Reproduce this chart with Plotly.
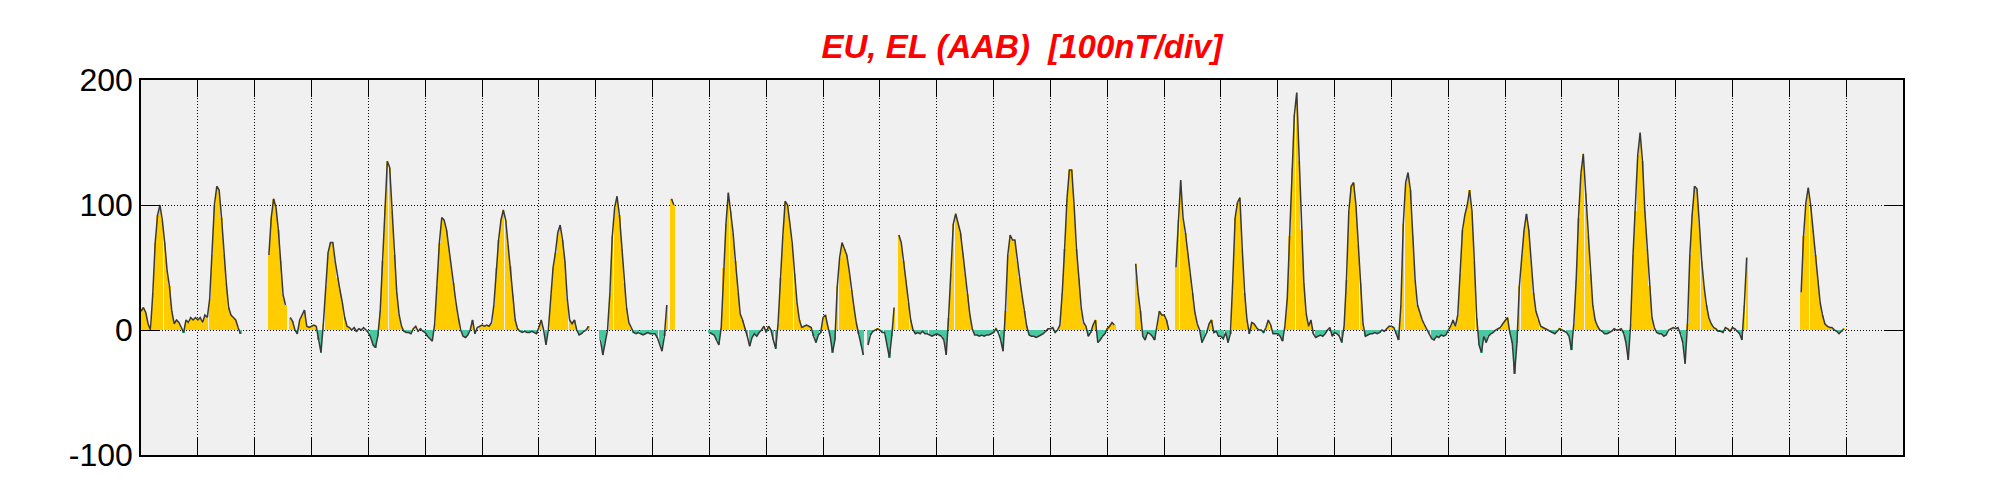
import plotly.graph_objects as go

N = None
# Hourly EU (positive) / EL (negative) values in nT, one list per day (UT hours 0..23)
d00 = [15, 18, 14, 5, 0, 30, 70, 92, 100, 88, 70, 48, 35, 15, 5, 8, 6, 2, -2, 8, 6, 10, 8, 10]
d01 = [8, 10, 6, 12, 10, 25, 60, 100, 115, 112, 90, 60, 38, 18, 12, 10, 8, 2, -3, N, N, N, N, N]
d02 = [N, N, N, N, N, N, 60, 90, 105, 98, 80, 55, 28, 20, N, 10, 7, 0, -3, 8, 12, 16, 3, 2]
d03 = [3, 4, 3, -8, -18, 5, 35, 62, 70, 70, 55, 42, 32, 22, 10, 3, 2, 0, 2, -1, 1, 0, 2, 0]
d04 = [-2, -6, -12, -14, -5, 15, 55, 100, 135, 130, 95, 60, 30, 12, 3, -1, -2, -2, -3, 1, 3, -1, 1, -1]
d05 = [-2, -5, -7, -9, 5, 35, 70, 90, 88, 80, 65, 52, 38, 22, 10, 0, -5, -6, -4, 0, 8, -3, 2, 3]
d06 = [4, 3, 4, 3, 6, 20, 50, 72, 88, 96, 88, 68, 51, 28, 8, 1, -1, -2, -1, -2, -2, -1, -2, -3]
d07 = [2, 8, 0, -12, 0, 28, 50, 62, 78, 84, 72, 55, 25, 8, 5, 8, 0, -4, -3, -1, 0, 3, N, N]
d08 = [N, N, -8, -20, -10, 0, 30, 75, 98, 107, 92, 65, 38, 18, 6, 2, -2, -3, -2, -3, -4, -3, -2, -3]
d09 = [-3, -3, -6, -12, -17, -5, 20, N, 105, 100, N, N, N, N, N, N, N, N, N, N, N, N, N, N]
d10 = [-2, -3, -4, -8, -12, 2, 50, 85, 110, 95, 78, 55, 30, 13, 8, 2, -5, -13, -6, -3, -5, -2, 0, 3]
d11 = [-2, 3, 0, -8, -15, 5, 42, 75, 103, 100, 85, 69, 45, 22, 8, 2, 3, 4, 3, 2, -5, -10, -4, -2]
d12 = [10, 12, 3, -5, -18, -8, 35, 58, 70, 65, 60, 48, 32, 19, 6, -3, -12, -20, N, -12, -4, -1, 0, 1]
d13 = [0, -2, -2, -12, -22, -5, 18, N, 76, 70, 55, 40, 22, 8, 0, -3, -2, -3, -1, -3, -3, -4, -5, -4]
d14 = [-3, -4, -5, -8, -20, 10, 45, 85, 93, 86, 78, 62, 45, 29, 12, 1, -4, -4, -5, -4, -5, -4, -4, -3]
d15 = [-2, 1, -2, -8, -17, 15, 60, 76, 72, 72, 55, 42, 28, 15, 3, -4, -5, -5, -6, -5, -4, -3, -1, 1]
d16 = [1, 2, -2, 0, 4, 30, 65, 105, 128, 128, 100, 65, 42, 18, 6, 3, -5, -2, 4, 8, -10, -8, -5, -3]
d17 = [1, 3, 6, 4, N, N, N, N, N, N, N, N, 53, 30, 15, -5, -8, -2, -3, -5, -8, 2, 15, 12]
d18 = [12, 8, 0, N, N, 50, 88, 120, 90, 78, 62, 45, 30, 14, 5, 0, -10, -6, -2, 5, 8, -2, -1, -5]
d19 = [-5, -7, -2, -10, -3, 40, 90, 102, 106, 65, 30, 8, -3, 6, 5, 2, 0, 0, -2, 2, 8, 4, -3, -3]
d20 = [-3, -5, -9, 3, 25, 75, 130, 172, 190, 135, 80, 38, 13, 3, 8, -3, -6, -5, -4, -5, -3, 0, 2, -5]
d21 = [-2, -3, -5, -10, 3, 40, 95, 115, 118, 100, 68, 38, 5, -5, -4, -3, -3, -2, -3, -2, 0, -1, 1, 3]
d22 = [3, 2, -3, -8, 20, 85, 118, 126, 112, 75, 40, 20, 13, 8, 4, 0, -3, -7, -8, -5, -6, -4, -5, -4]
d23 = [0, 3, 8, 3, 12, 45, 80, 92, 100, 112, 95, 55, 10, -12, -18, -5, -10, -5, -3, -2, 0, 1, 2, 5]
d24 = [8, 10, -2, -10, -35, -10, 35, 60, 80, 93, 80, 55, 30, 15, 8, 3, 2, 1, 0, -1, -2, -3, -1, 1]
d25 = [0, -1, -2, -5, -16, 5, 40, 90, 125, 141, 110, 75, 45, 20, 8, 3, 0, -1, -3, -3, -2, -1, 1, 0]
d26 = [0, 1, -2, -10, -24, 5, 60, 95, 140, 158, 135, 95, 65, 35, 10, 2, -2, -3, -3, -5, -4, 0, 1, 2]
d27 = [1, 2, -3, -10, -27, 5, 60, 93, 115, 113, 85, 55, 35, 20, 10, 5, 2, 1, -1, -1, -2, 2, 1, -1]
d28 = [2, 1, -1, -3, -8, 20, 58, N, N, N, N, N, N, N, N, N, N, N, N, N, N, N, N, N]
d29 = [N, N, N, N, N, 30, 75, 102, 114, 100, 80, 60, 40, 22, 12, 5, 3, 2, 2, 0, -1, -3, -1, 1]
d30 = [N] * 24

days = [d00, d01, d02, d03, d04, d05, d06, d07, d08, d09, d10, d11, d12, d13, d14, d15,
        d16, d17, d18, d19, d20, d21, d22, d23, d24, d25, d26, d27, d28, d29, d30]

y_ticks = [-100, 0, 100, 200]
title_text = "EU, EL (AAB)\u00a0 [100nT/div]"

t, v = [], []
for di, dl in enumerate(days):
    for h, val in enumerate(dl):
        t.append(di + h / 24.0)
        v.append(val)

pos = [max(x, 0) if x is not None else None for x in v]
neg = [min(x, 0) if x is not None else None for x in v]

fig = go.Figure()
fig.add_trace(go.Bar(x=t, y=pos, width=0.96 / 24, marker=dict(color="#ffcc00", line=dict(width=0)),
                     hoverinfo="skip"))
fig.add_trace(go.Bar(x=t, y=neg, width=0.96 / 24, marker=dict(color="#48c8a0", line=dict(width=0)),
                     hoverinfo="skip"))
fig.add_trace(go.Scatter(x=t, y=v, mode="lines", line=dict(color="#383838", width=1.5),
                         connectgaps=False))

# page body has an 8px margin: the figure is offset by 8px right/down
fig.update_layout(
    width=1993, height=492,
    margin=dict(l=133, r=98, t=72, b=45),
    paper_bgcolor="white", plot_bgcolor="#f0f0f0",
    showlegend=False, barmode="overlay", bargap=0,
    title=dict(text=title_text, x=0.5, xref="paper", xanchor="center",
               y=1 - 38 / 492, yref="container", yanchor="middle",
               font=dict(family="Arial, Liberation Sans, sans-serif", size=33, color="#ff0000",
                         weight="bold", style="italic")),
)
fig.update_xaxes(range=[0, 31], tickmode="array", tickvals=list(range(1, 31)),
                 ticks="inside", ticklen=17, tickwidth=1, tickcolor="black",
                 showticklabels=False, showgrid=True, gridcolor="black", gridwidth=1,
                 griddash="1px,2px", showline=True, linecolor="black", linewidth=1.5,
                 mirror="ticks", zeroline=False)
fig.update_yaxes(range=[-100, 200], tickmode="array", tickvals=y_ticks,
                 ticktext=[str(x) for x in y_ticks],
                 ticks="inside", ticklen=19, tickwidth=1, tickcolor="black",
                 tickfont=dict(family="Arial, Liberation Sans, sans-serif", size=32, color="black"),
                 showgrid=True, gridcolor="black", gridwidth=1, griddash="1px,2px",
                 showline=True, linecolor="black", linewidth=1.5, mirror="ticks", zeroline=False)

fig.write_html("out.html")
